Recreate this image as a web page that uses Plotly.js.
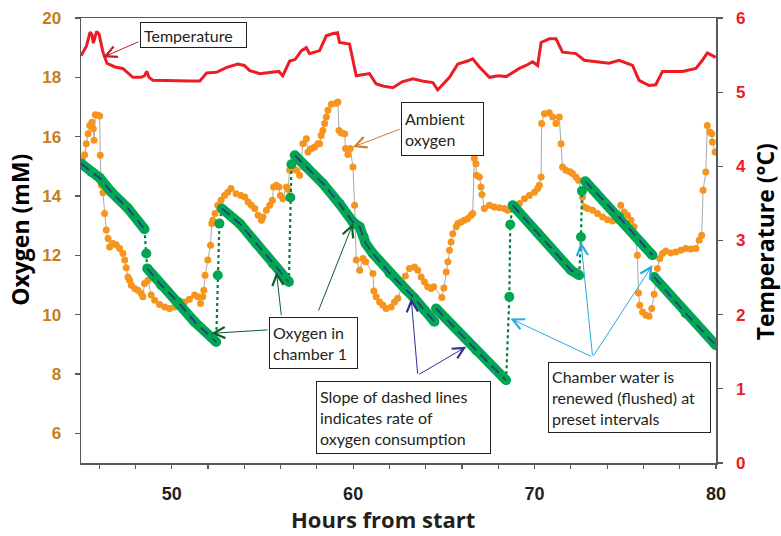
<!DOCTYPE html>
<html>
<head>
<meta charset="utf-8">
<script src="https://cdn.plot.ly/plotly-3.0.1.min.js"></script>
<style>html,body{margin:0;padding:0;background:#fff;}#chart{width:781px;height:536px;}</style>
</head>
<body>
<div id="chart"></div>
<script>
// ---- Temperature (right axis, °C) ----
const tempHours = [45.0,45.3,45.5,45.6,45.68,45.86,46.0,46.2,46.43,46.87,47.3,47.86,48.3,48.5,48.62,48.75,48.96,50.0,51.0,51.55,51.93,52.5,53.0,53.64,54.0,54.3,54.85,55.5,55.9,56.12,56.5,56.8,57.15,57.42,57.6,58.15,58.52,58.9,59.14,59.25,59.8,60.17,60.9,61.27,61.7,62.19,62.7,63.29,63.8,64.39,64.66,65.31,65.77,66.3,66.59,66.96,67.51,68.0,68.43,69.16,69.53,69.89,70.17,70.36,70.81,71.18,71.54,72.28,72.74,73.4,74.11,74.66,75.4,75.76,76.31,76.68,77.05,78.15,78.89,79.25,79.52,79.98];
const tempValues = [5.49,5.62,5.81,5.78,5.66,5.82,5.78,5.55,5.39,5.34,5.32,5.2,5.2,5.22,5.28,5.2,5.16,5.15,5.15,5.15,5.26,5.27,5.33,5.38,5.36,5.29,5.25,5.27,5.28,5.22,5.42,5.44,5.56,5.6,5.52,5.56,5.76,5.79,5.8,5.67,5.65,5.22,5.25,5.11,5.08,5.06,5.14,5.18,5.15,5.13,5.03,5.2,5.38,5.42,5.45,5.34,5.2,5.22,5.21,5.32,5.36,5.41,5.36,5.67,5.72,5.72,5.54,5.52,5.43,5.41,5.39,5.43,5.36,5.16,5.09,5.1,5.28,5.28,5.32,5.43,5.53,5.47];

// ---- Ambient oxygen (mM) ----
const ambientHours = [45.06,45.2,45.29,45.39,45.48,45.6,45.68,45.72,45.79,45.94,46.03,46.06,46.12,46.21,46.3,46.39,46.49,46.58,46.76,46.94,47.13,47.31,47.41,47.49,47.59,47.68,47.77,47.96,48.14,48.32,48.41,48.5,48.69,48.87,49.06,49.33,49.61,49.88,50.16,50.43,50.71,50.98,51.26,51.44,51.59,51.71,51.77,51.84,51.99,52.14,52.21,52.26,52.39,52.54,52.72,52.91,53.09,53.27,53.55,53.82,54.03,54.21,54.39,54.58,54.76,54.95,55.03,55.22,55.4,55.55,55.62,55.77,55.91,55.99,56.13,56.32,56.41,56.5,56.6,56.68,56.87,57.05,57.23,57.42,57.51,57.7,57.88,58.06,58.15,58.24,58.33,58.43,58.52,58.61,58.8,59.07,59.16,59.22,59.35,59.53,59.58,59.71,59.84,59.99,60.08,60.17,60.36,60.54,60.69,61.09,61.14,61.27,61.46,61.64,61.82,62.1,62.28,62.46,62.74,62.88,63.1,63.38,63.56,63.75,63.93,64.11,64.3,64.44,64.89,65.0,65.13,65.22,65.31,65.4,65.49,65.68,65.77,65.95,66.13,66.32,66.5,66.59,66.68,66.77,66.8,66.96,67.05,67.1,67.23,67.51,67.78,68.06,68.33,68.52,68.89,69.16,69.44,69.71,69.99,70.17,70.26,70.36,70.39,70.54,70.81,71.0,71.18,71.36,71.46,71.54,71.73,71.95,72.09,72.28,72.42,72.64,72.74,72.92,73.2,73.47,73.75,74.02,74.3,74.57,74.75,74.94,75.12,75.31,75.49,75.67,75.73,75.8,75.95,76.13,76.31,76.46,76.59,76.77,76.9,77.05,77.23,77.51,77.78,78.06,78.33,78.61,78.89,79.07,79.21,79.29,79.44,79.52,79.66,79.77,79.8,79.95];
const ambientO2 = [15.26,15.39,15.76,16.1,16.38,16.49,16.27,15.88,16.74,16.72,16.7,15.37,14.36,14.11,13.41,12.85,12.57,12.28,12.4,12.36,12.23,12.06,11.84,11.58,11.27,11.16,10.99,10.88,10.82,10.71,10.6,11.05,11.16,10.66,10.49,10.34,10.26,10.21,10.26,10.34,10.43,10.52,10.66,10.6,10.38,10.6,10.82,11.33,11.84,12.34,13.07,13.18,13.41,13.69,13.86,14.02,14.13,14.25,14.08,14.02,13.97,13.8,13.69,13.58,13.35,13.18,13.29,13.52,13.69,13.86,14.3,14.36,14.3,14.02,13.91,14.3,14.22,14.87,15.09,14.98,14.87,14.7,15.76,15.93,15.48,15.6,15.65,15.76,15.76,16.04,16.21,16.44,16.66,16.89,17.09,17.13,17.17,16.21,16.12,16.1,15.6,15.4,15.6,14.98,13.69,11.84,11.5,11.89,11.78,11.39,10.8,10.6,10.43,10.32,10.21,10.26,10.43,10.55,11.05,11.3,11.56,11.61,11.5,11.27,11.1,10.94,10.88,10.94,10.58,10.9,11.44,11.78,12.17,12.45,12.73,12.96,13.07,13.12,13.18,13.24,13.35,13.41,15.26,15.09,14.7,14.64,14.3,14.05,13.58,13.69,13.63,13.6,13.58,13.52,13.69,13.75,13.91,14.02,14.13,14.25,14.36,14.64,16.44,16.77,16.81,16.66,16.44,16.66,15.76,14.98,14.87,14.82,14.76,14.64,14.53,13.97,13.63,13.58,13.52,13.41,13.29,13.2,13.16,13.18,13.69,13.46,13.35,13.18,12.96,12.0,10.73,10.32,10.09,9.98,9.95,10.21,10.69,11.56,11.89,12.06,12.15,12.08,12.11,12.17,12.23,12.21,12.23,12.51,12.68,14.19,14.81,16.38,16.16,16.1,15.82,15.48];

// ---- Oxygen in chamber 1 (mM); null separates measurement periods ----
const chamberHours = [45.02,45.57,46.03,46.67,47.59,48.5,null,48.65,49.42,50.34,51.26,52.45,null,52.76,53.75,54.67,55.58,56.46,null,56.78,57.42,58.33,59.25,59.99,60.36,60.58,60.69,61.09,62.01,62.9,63.38,63.93,64.48,null,64.57,66.78,68.43,null,68.79,70.17,72.01,72.46,null,72.79,74.66,76.5,null,76.59,78.33,79.99];
const chamberO2 = [15.09,14.81,14.61,14.13,13.58,12.88,null,11.56,10.99,10.43,9.76,9.08,null,13.58,13.07,12.4,11.72,11.1,null,15.37,14.98,14.42,13.74,13.12,12.96,12.62,12.4,12.06,11.39,10.85,10.55,10.15,9.76,null,10.21,8.8,7.79,null,13.69,12.75,11.5,11.33,null,14.5,13.29,12.0,null,11.27,10.04,8.97];

// ---- Flushing of the chamber (dotted transitions) ----
const flushHours = [48.5,48.6,48.65,null,52.45,52.54,52.63,52.76,null,56.46,56.54,56.6,56.78,null,68.43,68.61,68.66,68.79,null,72.46,72.56,72.61,72.79];
const flushO2 = [12.88,12.06,11.56,null,9.08,11.33,13.07,13.58,null,11.1,13.95,15.07,15.37,null,7.79,10.6,13.04,13.69,null,11.33,12.62,14.17,14.5];
const flushDotHours = [48.6,52.54,52.63,56.54,56.6,68.61,68.66,72.56,72.61];
const flushDotO2 = [12.06,11.33,13.07,13.95,15.07,10.6,13.04,12.62,14.17];

// ---- Axes ----
const xTickVals = [46,48,50,52,54,56,58,60,62,64,66,68,70,72,74,76,78,80];
const xTickText = ['','','50','','','','','60','','','','','70','','','','','80'];
const yTickVals = [6,8,10,12,14,16,18,20];
const y2TickVals = [0,1,2,3,4,5,6];

const labelTexts = ['Temperature','Ambient<br>oxygen','Oxygen in<br>chamber 1','Slope of dashed lines<br>indicates rate of<br>oxygen consumption','Chamber water is<br>renewed (flushed) at<br>preset intervals'];

const traces = [
  {x: ambientHours, y: ambientO2, mode: 'lines+markers', type: 'scatter',
   line: {color: '#a7a9ac', width: 1}, marker: {color: '#f7941d', size: 7}, hoverinfo: 'skip'},
  {x: tempHours, y: tempValues, yaxis: 'y2', mode: 'lines', type: 'scatter',
   line: {color: '#ed1c24', width: 3}, hoverinfo: 'skip'},
  {x: flushHours, y: flushO2, mode: 'lines', type: 'scatter', connectgaps: false,
   line: {color: '#00803f', width: 2.2, dash: 'dot'}, hoverinfo: 'skip'},
  {x: flushDotHours, y: flushDotO2, mode: 'markers', type: 'scatter',
   marker: {color: '#00a651', size: 10}, hoverinfo: 'skip'},
  {x: chamberHours, y: chamberO2, mode: 'lines+markers', type: 'scatter', connectgaps: false,
   line: {color: '#00a651', width: 10}, marker: {color: '#00a651', size: 10, line: {width: 0}}, hoverinfo: 'skip'},
  {x: chamberHours, y: chamberO2, mode: 'lines', type: 'scatter', connectgaps: false,
   line: {color: '#2e3192', width: 1.6, dash: '10px,6px'}, hoverinfo: 'skip'}
];

const txtFont = {family: 'Lato, sans-serif', size: 16, color: '#231f20'};
function box(text, x, y, w, h) {
  return {text: text, x: x, y: y, xref: 'x', yref: 'y', xanchor: 'left', yanchor: 'top',
    showarrow: false, align: 'left', valign: 'middle', width: w, height: h,
    bgcolor: '#ffffff', bordercolor: '#231f20', borderwidth: 1, borderpad: 3, font: txtFont};
}
function arrow(hx, hy, tx, ty, color) {
  return {text: '', x: hx, y: hy, ax: tx, ay: ty, xref: 'x', yref: 'y', axref: 'x', ayref: 'y',
    showarrow: true, arrowhead: 5, arrowsize: 2.2, arrowwidth: 1, arrowcolor: color, standoff: 0, startstandoff: 0};
}

const titleFont = {family: 'Open Sans, sans-serif', size: 23, color: '#000', weight: 'bold'};
const annotations = [
  arrow(46.23, 18.68, 48.25, 19.22, '#be1e2d'),
  arrow(59.99, 15.65, 62.65, 16.27, '#c8802a'),
  arrow(55.77, 11.44, 56.05, 9.93, '#0b5e2f'),
  arrow(59.99, 13.07, 58.06, 10.09, '#0b5e2f'),
  arrow(52.19, 9.37, 55.36, 9.49, '#0b5e2f'),
  arrow(63.2, 10.55, 63.56, 7.96, '#2e3192'),
  arrow(66.23, 8.92, 63.56, 7.96, '#2e3192'),
  arrow(68.67, 9.87, 73.2, 8.57, '#27aae1'),
  arrow(72.56, 12.45, 73.2, 8.57, '#27aae1'),
  arrow(76.5, 11.67, 73.2, 8.57, '#27aae1'),
  box(labelTexts[0], 48.25, 19.88, 99, 18),
  box(labelTexts[1], 62.65, 17.17, 75, 46),
  box(labelTexts[2], 55.36, 9.93, 81, 44),
  box(labelTexts[3], 57.97, 7.77, 167, 65),
  box(labelTexts[4], 70.72, 8.41, 155, 63),
  {text: 'Oxygen (mM)', xref: 'paper', yref: 'paper', x: -0.096, y: 0.524, textangle: -90,
   xanchor: 'center', yanchor: 'middle', showarrow: false, font: titleFont},
  {text: 'Temperature (°C)', xref: 'paper', yref: 'paper', x: 1.077, y: 0.498, textangle: -90,
   xanchor: 'center', yanchor: 'middle', showarrow: false, font: titleFont},
  {text: 'Hours from start', xref: 'paper', yref: 'paper', x: 0.475, y: -0.1645,
   xanchor: 'center', yanchor: 'bottom', showarrow: false,
   font: {family: 'Open Sans, sans-serif', size: 22, color: '#231f20', weight: 'bold'}}
];

const axisLine = '#58595b';
const layout = {
  width: 781, height: 536,
  margin: {l: 81, r: 65, t: 18, b: 73, pad: 0},
  paper_bgcolor: '#ffffff', plot_bgcolor: '#ffffff',
  showlegend: false,
  xaxis: {range: [45, 80], tickvals: xTickVals, ticktext: xTickText, ticks: 'outside', ticklen: 4,
    tickcolor: axisLine, tickwidth: 1.2, showline: true, linecolor: axisLine, linewidth: 1.5, mirror: true,
    showgrid: false, zeroline: false, ticklabelstandoff: 10,
    tickfont: {family: 'Liberation Sans, Arial, sans-serif', size: 18, color: '#231f20', weight: 'bold'}},
  yaxis: {range: [5, 20], tickvals: yTickVals, ticks: 'outside', ticklen: 5,
    tickcolor: axisLine, tickwidth: 1.2, showline: true, linecolor: axisLine, linewidth: 1.5,
    showgrid: false, zeroline: false, ticklabelstandoff: 10,
    tickfont: {family: 'Liberation Sans, Arial, sans-serif', size: 17, color: '#c47d22', weight: 'bold'}},
  yaxis2: {range: [0, 6], tickvals: y2TickVals, overlaying: 'y', side: 'right', ticks: 'outside', ticklen: 5,
    tickcolor: axisLine, tickwidth: 1.2, showline: true, linecolor: axisLine, linewidth: 1.5,
    showgrid: false, zeroline: false, ticklabelstandoff: 10,
    tickfont: {family: 'Liberation Sans, Arial, sans-serif', size: 17, color: '#ed1c24', weight: 'bold'}},
  annotations: annotations
};

Plotly.newPlot('chart', traces, layout, {staticPlot: true, displayModeBar: false});
</script>
</body>
</html>
